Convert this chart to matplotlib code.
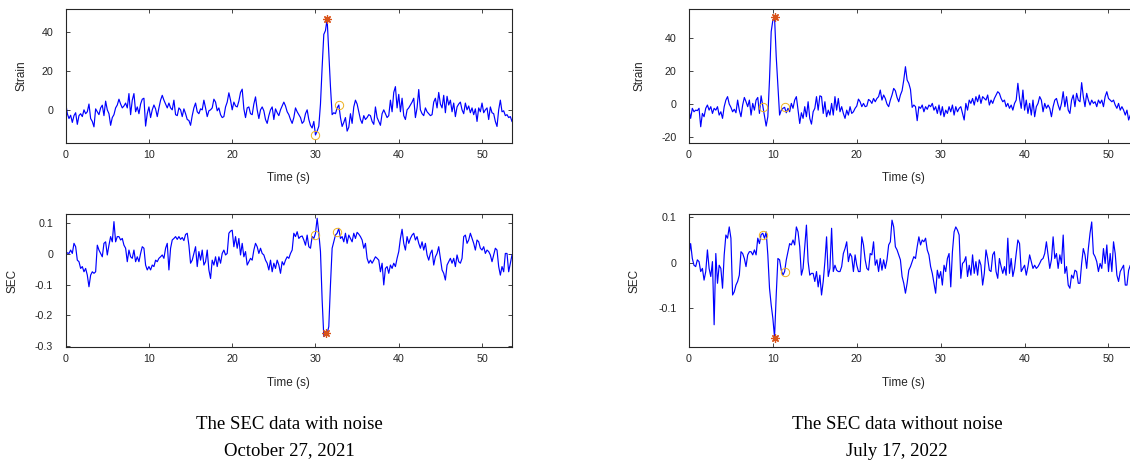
import numpy as np
import matplotlib
matplotlib.use("Agg")
import matplotlib.pyplot as plt

plt.rcParams["font.family"] = ["Liberation Sans", "DejaVu Sans"]
plt.rcParams["axes.unicode_minus"] = False

DT = 0.2  # sample spacing (s)

# strain, with noise (Oct 27 2021)
strain_noise = [
    3.8, -2, -4.5, -2.8, -6.5, -3, -1.5, -7.5, -3, -2, -3.5, 0, -2, -1, 3, -4.5, -6, -8.8, 0.5, -1, -2.5, 1, 2.4, -3, 4.5,
    0, -2, -8, -4, -2.5, 1, 2.5, 5.5, 3, 1, 2, 3.5, 1, 8.4, -2.5, 5, 8.4, -1, 1.5, -2, 3, 5.5, 6, -8.4, -2,
    1.5, -4, 0, 2.5, 0.5, -3.5, 1, 5, 7.5, 5, 3, 1, 3.5, 1, 0, 5, -2.5, -3, 1, 0, -3.5, 0.5, -2, -5, -5.5,
    -8, -3, 1, 3.5, -1, -2, 0.5, 0, 5, 1, -3.5, -0.5, 0, 1, 5.5, 4, -0.5, 1, -2.5, -4, -3.5, 1.5, 4, 8.8, 5,
    0, 4, 2, 1.5, 4.5, 9, 10.7, 0.5, -4, 1, 1.5, -2, -2.5, 3, 6.7, 0, -4.5, 0, 1.5, -0.5, -5, -7, -3, 0, 1.5,
    -5, 0.5, -1.5, -3, 0, 2, 4, 2, -1, -2.5, -5, -7, -4, 1, -1, -2.5, -4, -7, -6, -2, 0, -5, -8, -9.4, -6,
    -13, -11, -8.5, 3, 22, 39, 41, 47, 30, 12, -2.5, -1.5, -2, 1, 2.5, -4, -8.6, -6.5, -4, -11, -9, -2, -7, 1.5, 5,
    3, -1, -5, -7, -3, -5, -4, -2.5, -3, -6, -7.5, 1.5, -4, -6, -8, -2, 0, -2, -4, -3, 5, -1, 9, 12, 1,
    8, -1, 6, -3, -5, 0, 1, 2.5, 4, 6, -4, 1, 10.5, 0, -2, -3, 1, -1, -2, -3, -2.5, 4, 6, 1, 9,
    3, 1, 7.5, -1.5, 7, 2.5, 5, -1, 3.5, -3.5, 1.5, 3, 4, 0, -2, 3.5, 0, 2, -1.5, 1, -2.5, 0.5, -6, 1, -1,
    3.5, -1.5, 0, 1, -5, 1.5, -1.5, -2, -6, -8.6, 0, 5, -1, -0.5, -3, -2.5, -4, -3.5, -6,
]

# SEC, with noise
sec_noise = [
    -0.003, 0.004, 0.002, 0.013, 0.002, 0.035, 0.024, -0.02, -0.025, -0.047, -0.041, -0.058, -0.047, -0.069, -0.107,
    -0.069, -0.058, -0.063, -0.058, 0.029, 0.013, 0.002, -0.009, 0.035, 0.04,
    -0.003, 0.029, 0.057, 0.04, 0.106, 0.04, 0.057, 0.057, 0.046, 0.051, 0.029, 0.019, -0.025, 0.013, -0.009,
    -0.014, 0.013, -0.025, -0.009, -0.025, 0.002, 0.024, 0.019, -0.036, -0.052,
    -0.041, -0.052, -0.036, -0.041, -0.02, -0.025, -0.014, -0.009, -0.003, -0.014, 0.019, 0.035, -0.052, 0.019, 0.046,
    0.051, 0.057, 0.048, 0.057, 0.048, 0.054, 0.044, 0.064, 0.068, 0.029,
    -0.03, -0.02, 0.002, 0.024, -0.041, 0.008, -0.02, 0.013, -0.036, -0.025, 0.013, -0.052, -0.08, -0.02, -0.036,
    -0.009, -0.041, -0.009, -0.03, 0.002, 0.013, -0.003, 0.002, 0.068, 0.075,
    0.078, 0.024, 0.057, 0.019, 0.051, -0.003, 0.035, -0.009, 0.008, -0.036, -0.025, -0.014, -0.02, 0.013, 0.035,
    0.024, 0.002, 0.019, 0.002, -0.003, -0.02, -0.03, -0.052, -0.02, -0.058,
    -0.03, -0.047, -0.02, -0.036, -0.063, -0.025, -0.036, -0.02, -0.009, -0.014, 0.002, 0.013, 0.068, 0.057, 0.073,
    0.051, 0.057, 0.059, 0.046, 0.029, 0.062, 0.024, 0.019, 0.057, 0.051,
    0.068, 0.117, 0.068, 0.008, -0.15, -0.27, -0.265, -0.26, -0.237, -0.101, 0.019, 0.04, 0.062, 0.068, 0.084,
    0.051, 0.057, 0.04, 0.068, 0.035, 0.062, 0.051, 0.04, 0.068, 0.051,
    0.071, 0.065, 0.057, 0.046, 0.019, 0.035, -0.014, -0.03, -0.02, -0.03, -0.02, -0.009, -0.014, -0.02, -0.058,
    -0.03, -0.101, -0.047, -0.041, -0.063, -0.036, -0.047, -0.03, -0.041, -0.014,
    0.008, 0.051, 0.081, 0.035, 0.013, 0.057, 0.035, 0.051, 0.062, 0.068, 0.046, 0.057, 0.035, 0.019, 0.04,
    0.013, 0.035, -0.003, -0.02, 0.002, 0.013, -0.036, -0.009, 0.002, 0.024,
    -0.014, -0.052, -0.063, -0.085, -0.036, -0.025, -0.014, -0.03, -0.014, -0.041, -0.003, -0.025, -0.03, -0.014, 0.057,
    0.062, 0.035, 0.046, 0.068, 0.051, 0.035, 0.013, 0.046, 0.04, 0.019,
    0.013, 0.024, 0.002, 0.013, 0.008, -0.003, -0.025, -0.003, 0.019, 0.013, -0.041, -0.069, -0.041, -0.058, 0.002,
    0.002, -0.058, -0.03, -0.003,
]

# strain, without noise (Jul 17 2022)
strain_clean = [
    -3.7, -8.7, -2.6, -4.7, -3.7, -4, -2.6, -13.8, -5.7, -7.7, -2.6, -0.6, -3.7, -1.6, -5.7, -2.6, -3.7, -1.6, -6.7, -4.7, -8.7, -1.6, 2.4, 4.5, 0,
    -2, -4.7, -3.2, -5.3, 2.4, -3.7, -7.7, -0.6, 4, 1.4, -1.6, 2.4, -6.7, 0.4, -3.7, 2.4, 4, -5.7, 5, -1.2, -7.7, -13.4, -7.7, 15, 44,
    51, 52.7, 28.8, 10.5, -6.7, -3.7, -2.6, -2, -5.3, -2.6, -4.7, 0.4, -2.6, 2.4, 4.5, -3.7, -11.8, -5.3, -8.7, -1.6, -7.7, 1.4, -8.7, -12.2, -4.7,
    -2.6, 4.5, -3.7, 5, 4.5, -5.7, 1.4, -7.7, -3.7, -6.7, 0.4, -6.7, 4.5, -3.7, 3.4, -4.7, -1.6, -5.7, -8.7, -3.7, -6.7, -1.6, -5.7, -4.7, -2.6,
    -1.2, 3, 1.4, -1.6, 0.4, -1.6, -1.2, 2.8, 2, 0.4, 3.4, 1.4, 3.4, 4.5, 8.5, 2.4, 5.5, 3.4, 0, -1.6, 2.4, 5.5, 9.5, 8.1, 4,
    1.4, 5.5, 8.1, 14.6, 22.7, 14.6, 12.6, 8.9, -2, -0.6, -1.6, -10.1, -1.6, -2.6, -0.6, -4.7, -1.6, -3.2, -0.6, -1.6, 0.4, -3.7, -1.6, -5.7, -0.6,
    -6.7, -1.6, -7.7, -3.7, -5.7, -1.6, -4.7, -0.6, -6.7, -1.6, -4.7, -2.6, -1.6, -5.7, -9.7, 0.4, -3.7, 2.4, 0.4, 3.4, -0.6, 4.5, 1.4, 5.5, 0.4,
    4.5, 3.4, 2.4, 5.5, -0.6, 2.4, 0.4, 3.4, 5.5, 7.5, 6.5, 3.4, 1.4, 2.4, -1.6, 0.4, -2.6, -0.6, -3.7, 0.4, 2.4, 12.6, 3.4, -2.6, 8.5,
    -3.7, 2.4, -5.7, 0.4, -6.7, 2.4, -7.7, -1.6, 0.4, 4.5, 2.4, -4.7, 0.4, -2.6, -0.6, -2.6, -7.7, -1.6, 2.4, 3.4, -0.6, -3.7, 0.4, 7.5, -1.6,
    4.5, -3.7, -5.7, 2.4, 5.5, -1.6, 6.5, 2.4, 1.4, 13, 4.5, -1.6, 6.5, 2.4, -0.6, 2.4, 0.4, 1.4, -1.6, 2.4, 0.4, 2.4, -1.6, 4.5, 7.5,
    3.4, 2.4, 1.4, 2.4, -0.6, -2.6, 0.4, -3.7, -1.6, -3.7, -6.7, -3.7, -9.7, -6.7, -5, -8,
]

# SEC, without noise
sec_clean = [
    0.017, 0.042, 0.009, -0.006, -0.009, 0.006, 0.002, -0.02, -0.013, -0.039, -0.02, 0.028, -0.013, -0.031, 0.002,
    -0.138, 0.02, -0.046, -0.006, -0.013, -0.057, 0.017, 0.061, 0.054, 0.079,
    0.054, -0.072, -0.065, -0.05, -0.042, -0.028, 0.024, 0.02, 0.009, -0.009, 0.017, 0.024, 0.024, 0.017, 0.028,
    0.017, 0.054, 0.042, 0.062, 0.065, 0.054, 0.068, 0.017, -0.057, -0.094,
    -0.124, -0.166, -0.072, 0.009, 0.006, -0.017, -0.028, -0.02, 0.006, 0.024, 0.042, 0.039, 0.05, 0.039, 0.079,
    0.068, 0.035, -0.028, -0.013, 0.035, 0.083, 0.002, -0.028, -0.024, -0.024,
    -0.042, -0.02, -0.054, -0.028, -0.072, -0.042, 0.002, 0.057, -0.031, -0.013, 0.076, -0.02, -0.006, -0.017, -0.02,
    -0.02, -0.009, 0.02, 0.031, 0.046, 0.002, 0.02, 0.013, -0.02, 0.017,
    -0.006, -0.02, -0.02, 0.057, 0.039, 0.006, -0.013, -0.017, 0.02, 0.017, 0.046, -0.006, 0.006, -0.02, 0.009,
    -0.017, 0.006, -0.013, 0.006, 0.039, 0.046, 0.094, 0.079, 0.035, 0.028,
    0.017, 0.006, -0.031, -0.046, -0.068, -0.046, -0.017, -0.009, 0.002, 0.013, 0.009, 0.035, 0.057, 0.039, 0.05,
    0.046, 0.054, 0.028, 0.017, -0.009, -0.024, -0.046, -0.068, -0.017, -0.035,
    -0.02, -0.05, -0.006, -0.02, 0.009, 0.02, -0.054, 0.024, 0.068, 0.079, 0.072, 0.061, -0.035, -0.002, 0.002,
    0.013, -0.031, -0.006, -0.028, 0.017, -0.024, 0.002, -0.028, 0.006, -0.006,
    -0.05, -0.024, 0.028, 0.009, -0.017, -0.02, 0.017, 0.024, -0.02, -0.035, 0.009, -0.009, -0.024, -0.009, -0.028,
    0.054, -0.024, 0.009, -0.031, -0.013, 0.02, 0.05, 0.042, -0.02, -0.013,
    -0.006, -0.028, -0.009, 0.017, 0.002, -0.013, -0.006, -0.013, -0.009, -0.002, 0.006, 0.009, 0.02, 0.046, 0.017,
    -0.013, 0.006, 0.057, 0.009, 0.02, -0.013, 0.017, -0.002, 0.061, -0.024,
    -0.009, -0.05, -0.057, -0.028, -0.035, -0.017, -0.02, -0.046, -0.046, -0.002, 0.031, 0.017, -0.013, 0.031, 0.065,
    0.09, 0.02, 0.013, 0.002, -0.02, -0.002, -0.013, 0.031, -0.002, 0.039,
    -0.02, 0.02, -0.02, 0.046, 0.02, -0.028, -0.042, -0.02, -0.013, -0.006, -0.05, -0.05, -0.017, -0.006, -0.01, -0.02,
]

# peak (star) and the two side points (circles) per panel: (t, value)
strain_noise_peak = ([31.4], [47.0])
strain_noise_sides = ([30.0, 32.8], [-13.0, 2.5])
sec_noise_peak = ([31.3], [-0.258])
sec_noise_sides = ([30.0, 32.6], [0.062, 0.073])
strain_clean_peak = ([10.2], [52.7])
strain_clean_sides = ([8.8, 11.4], [-1.5, -2.0])
sec_clean_peak = ([10.2], [-0.168])
sec_clean_sides = ([8.8, 11.45], [0.060, -0.022])

x_ticks = [0, 10, 20, 30, 40, 50]
captions = [("The SEC data with noise", "October 27, 2021"),
            ("The SEC data without noise", "July 17, 2022")]

BLUE = "#0000ff"; STAR = "#d95319"; RING = "#edb120"; INK = "#262626"


def panel(fig, rect, values, peak, sides, ylim, yticks, ylabel, ylab_x, xlab_x):
    ax = fig.add_axes(rect)
    t = np.arange(len(values)) * DT
    ax.plot(t, values, color=BLUE, lw=0.85)
    ax.plot(*peak, linestyle="none", marker=(8, 2, 0), ms=6, mew=0.9, color=STAR)
    ax.plot(*sides, linestyle="none", marker="o", ms=6, mew=0.7, mfc="none", mec=RING)
    ax.set_xlim(0, 53.6)
    ax.set_ylim(*ylim)
    ax.set_xticks(x_ticks)
    ax.set_xticklabels([str(v) for v in x_ticks])
    ax.set_yticks(yticks)
    ax.set_yticklabels([f"{v:g}" for v in yticks])
    ax.tick_params(direction="in", top=True, right=True, length=3.2, width=0.6,
                   labelsize=7.7, colors=INK)
    ax.tick_params(axis="y", pad=9)
    ax.tick_params(axis="x", pad=5)
    for sp in ax.spines.values():
        sp.set_color(INK)
        sp.set_linewidth(0.8)
    ax.set_xlabel("Time (s)", fontsize=8.5, color=INK)
    ax.xaxis.set_label_coords(xlab_x, -0.22)
    ax.set_ylabel(ylabel, fontsize=8.5, color=INK)
    ax.yaxis.set_label_coords(ylab_x, 0.5)
    return ax


fig = plt.figure(figsize=(11.3, 4.76), dpi=100)
fig.patch.set_facecolor("white")

LW, RW = 0.3950, 0.3980
panel(fig, [0.0581, 0.7002, LW, 0.2803], strain_noise, strain_noise_peak, strain_noise_sides,
      (-17, 52), [0, 20, 40], "Strain", -0.085, 0.5)
panel(fig, [0.0581, 0.2704, LW, 0.2794], sec_noise, sec_noise_peak, sec_noise_sides,
      (-0.305, 0.13), [-0.3, -0.2, -0.1, 0, 0.1], "SEC", -0.105, 0.5)
panel(fig, [0.6097, 0.7002, RW, 0.2803], strain_clean, strain_clean_peak, strain_clean_sides,
      (-23.5, 57.6), [-20, 0, 20, 40], "Strain", -0.097, 0.478)
panel(fig, [0.6097, 0.2704, RW, 0.2794], sec_clean, sec_clean_peak, sec_clean_sides,
      (-0.188, 0.107), [-0.1, 0, 0.1], "SEC", -0.108, 0.478)

for xc, (line1, line2) in zip([0.2558, 0.7938], captions):
    fig.text(xc, 0.1092, line1, ha="center", va="center", fontsize=13.5, family="Liberation Serif")
    fig.text(xc, 0.0525, line2, ha="center", va="center", fontsize=13.5, family="Liberation Serif")

fig.savefig("out.png", dpi=100, facecolor="white")
plt.close(fig)
